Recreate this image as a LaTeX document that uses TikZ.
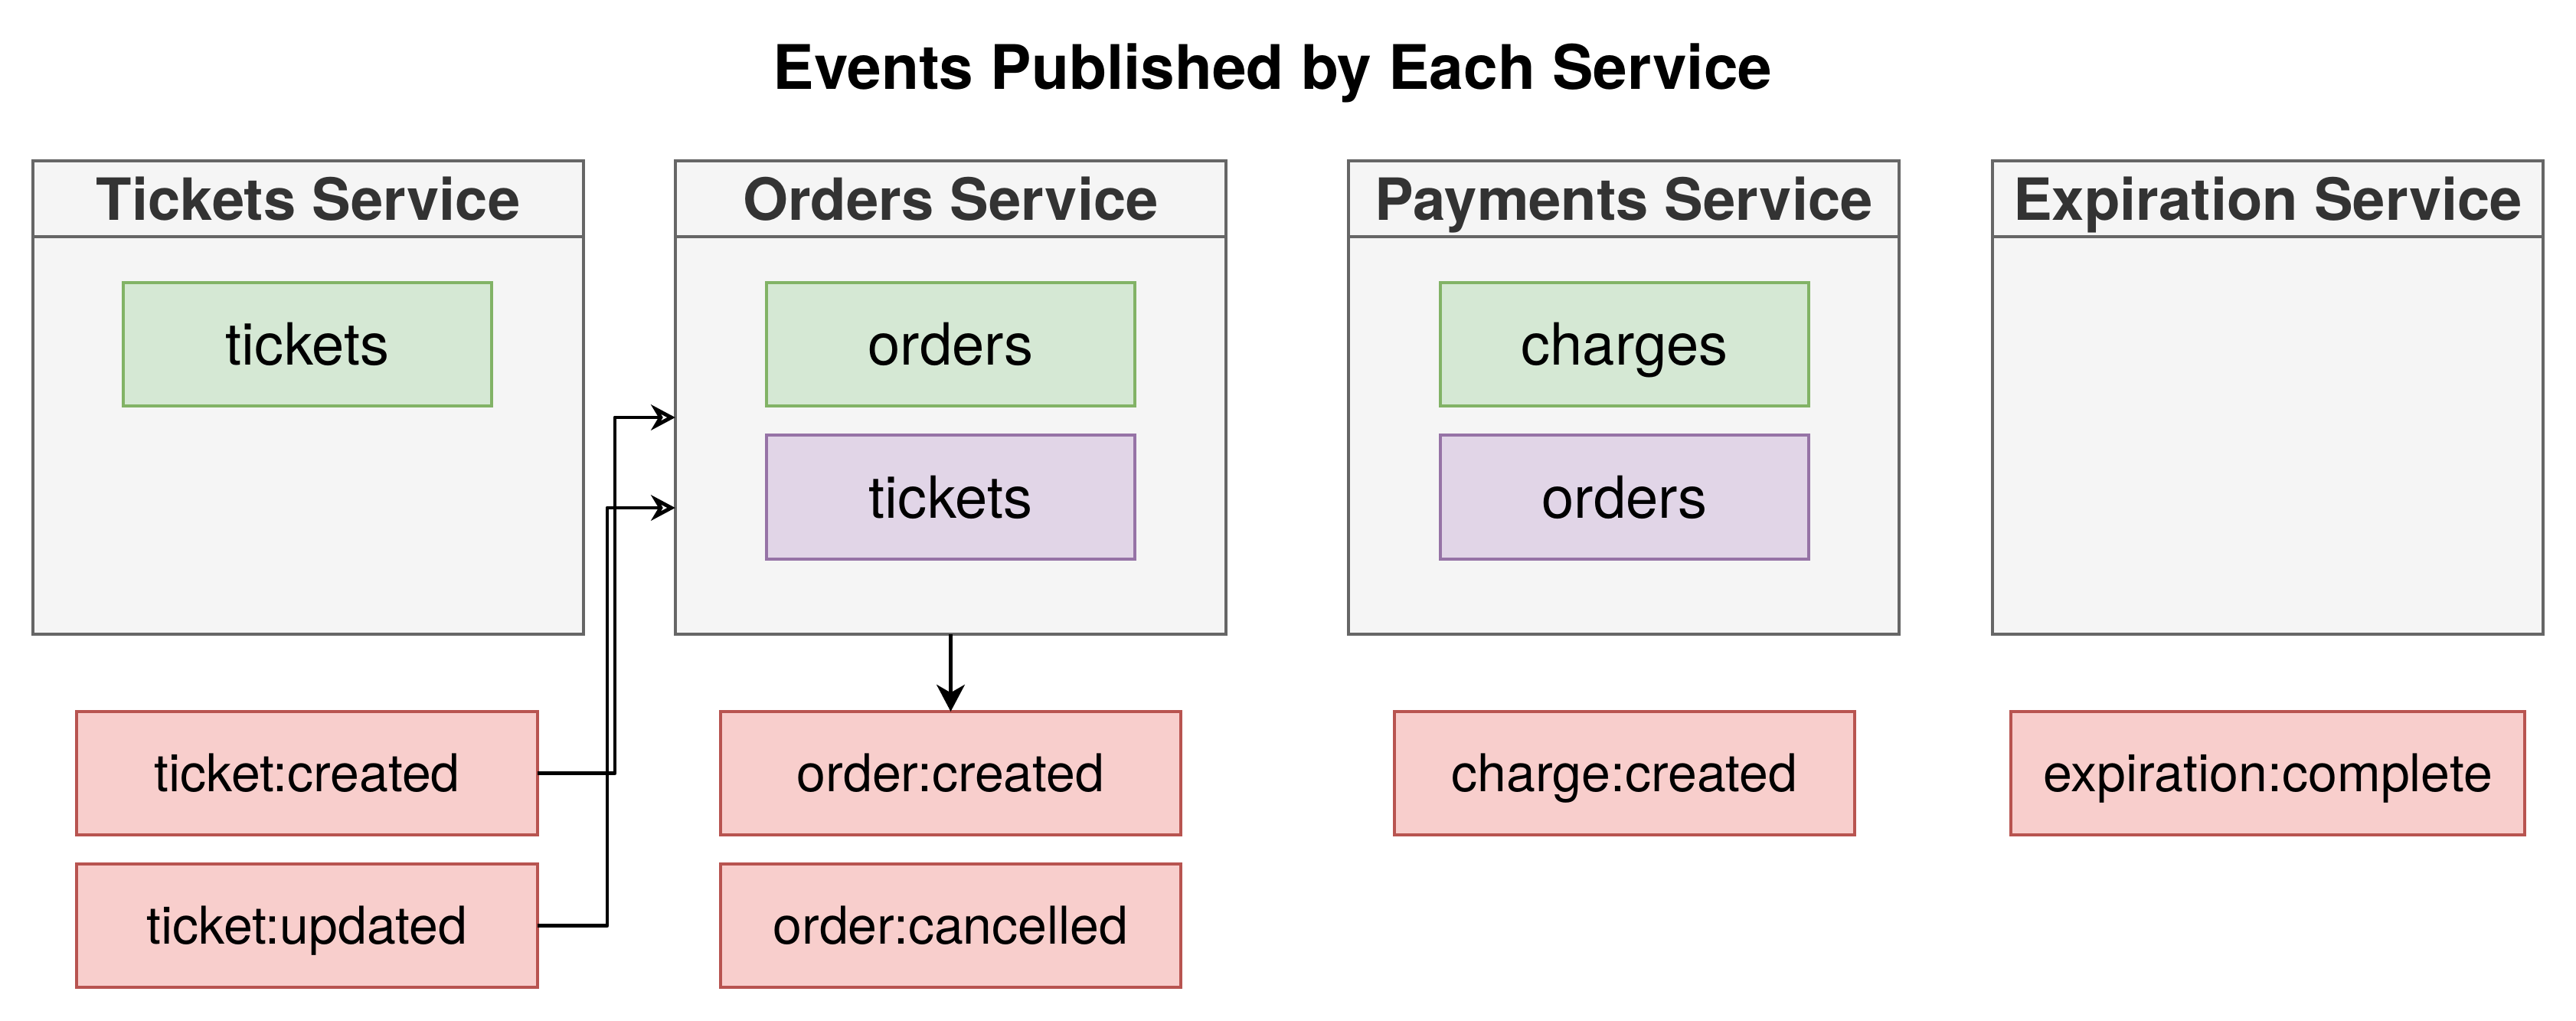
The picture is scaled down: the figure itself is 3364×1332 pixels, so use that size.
\documentclass[tikz,border=0pt]{standalone}
\usepackage{fontspec}
\setmainfont{TeX Gyre Heros}
\usetikzlibrary{arrows.meta}
\definecolor{svcfill}{HTML}{F5F5F5}
\definecolor{svcline}{HTML}{666666}
\definecolor{svctext}{HTML}{333333}
\definecolor{grnfill}{HTML}{D5E8D4}
\definecolor{grnline}{HTML}{82B366}
\definecolor{purfill}{HTML}{E1D5E7}
\definecolor{purline}{HTML}{9673A6}
\definecolor{redfill}{HTML}{F8CECC}
\definecolor{redline}{HTML}{B85450}
\begin{document}
\begin{tikzpicture}[x=0.01cm, y=-0.01cm,
  svc/.style={draw=svcline, fill=svcfill, line width=1.15pt, minimum width=7.19cm, minimum height=6.18cm, inner sep=0pt, outer sep=0pt},
  svctitle/.style={text=svctext, font=\fontsize{21.6}{26}\selectfont\bfseries, text height=15.5pt, text depth=0pt, inner sep=0pt},
  headline/.style={draw=svcline, line width=1.15pt},
  topic/.style={line width=1.15pt, minimum width=4.81cm, minimum height=1.61cm, inner sep=0pt, outer sep=0pt, font=\fontsize{21.6}{26}\selectfont, text height=15.5pt, text depth=0pt},
  pub/.style={topic, draw=grnline, fill=grnfill},
  subtopic/.style={topic, draw=purline, fill=purfill},
  evt/.style={draw=redline, fill=redfill, line width=1.15pt, minimum width=6.01cm, minimum height=1.61cm, inner sep=0pt, outer sep=0pt, font=\fontsize{19.35}{23}\selectfont, text height=13.9pt, text depth=0pt},
  flow/.style={line width=1.4pt, line join=round, -{Stealth[open, length=9pt, width=9.5pt, inset=2.8pt]}},
  emit/.style={line width=1.15pt, -{Stealth[length=10pt, width=10.5pt, inset=3pt]}}]
\fill[white] (0,0) rectangle (3364,1332);
\useasboundingbox (0,0) rectangle (3364,1332);

% title
\node[font=\fontsize{22.8}{27}\selectfont\bfseries, text height=16.4pt, text depth=0pt, inner sep=0pt] (title) at (1662,87.5) {Events Published by Each Service};

% services
\node[svc] (tsvc) at (402.5,519) {};
\draw[headline] ([yshift=-0.99cm]tsvc.north west) -- ([yshift=-0.99cm]tsvc.north east);
\node[svctitle] (tsvch) at ([yshift=-0.5cm]tsvc.north) {Tickets Service};

\node[svc] (osvc) at (1241.5,519) {};
\draw[headline] ([yshift=-0.99cm]osvc.north west) -- ([yshift=-0.99cm]osvc.north east);
\node[svctitle] (osvch) at ([yshift=-0.5cm]osvc.north) {Orders Service};

\node[svc] (psvc) at (2120.5,519) {};
\draw[headline] ([yshift=-0.99cm]psvc.north west) -- ([yshift=-0.99cm]psvc.north east);
\node[svctitle] (psvch) at ([yshift=-0.5cm]psvc.north) {Payments Service};

\node[svc] (esvc) at (2961.5,519) {};
\draw[headline] ([yshift=-0.99cm]esvc.north west) -- ([yshift=-0.99cm]esvc.north east);
\node[svctitle] (esvch) at ([yshift=-0.5cm]esvc.north) {Expiration Service};

% topics
\node[pub] (ttickets) at (401.5,449.5) {tickets};
\node[pub] (oorders) at (1241.5,449.5) {orders};
\node[subtopic] (otickets) at (1241.5,649) {tickets};
\node[pub] (pcharges) at (2121.5,449.5) {charges};
\node[subtopic] (porders) at (2121.5,649) {orders};

% events
\node[evt] (tcreated) at (401,1009.5) {ticket:created};
\node[evt] (tupdated) at (401,1208.5) {ticket:updated};
\node[evt] (ocreated) at (1241.5,1009.5) {order:created};
\node[evt] (ocancelled) at (1241.5,1208.5) {order:cancelled};
\node[evt] (ccreated) at (2121.5,1009.5) {charge:created};
\node[evt, minimum width=6.71cm] (xcomplete) at (2961.5,1009.5) {expiration:complete};

% connectors
\coordinate (bend1) at (803,545);
\coordinate (bend2) at (793,663);
\draw[flow] (tcreated.east) -| (bend1) -- (bend1 -| osvc.west);
\draw[flow] (tupdated.east) -| (bend2) -- (bend2 -| osvc.west);
\draw[emit] (osvc.south) -- (ocreated.north);
\end{tikzpicture}
\end{document}
